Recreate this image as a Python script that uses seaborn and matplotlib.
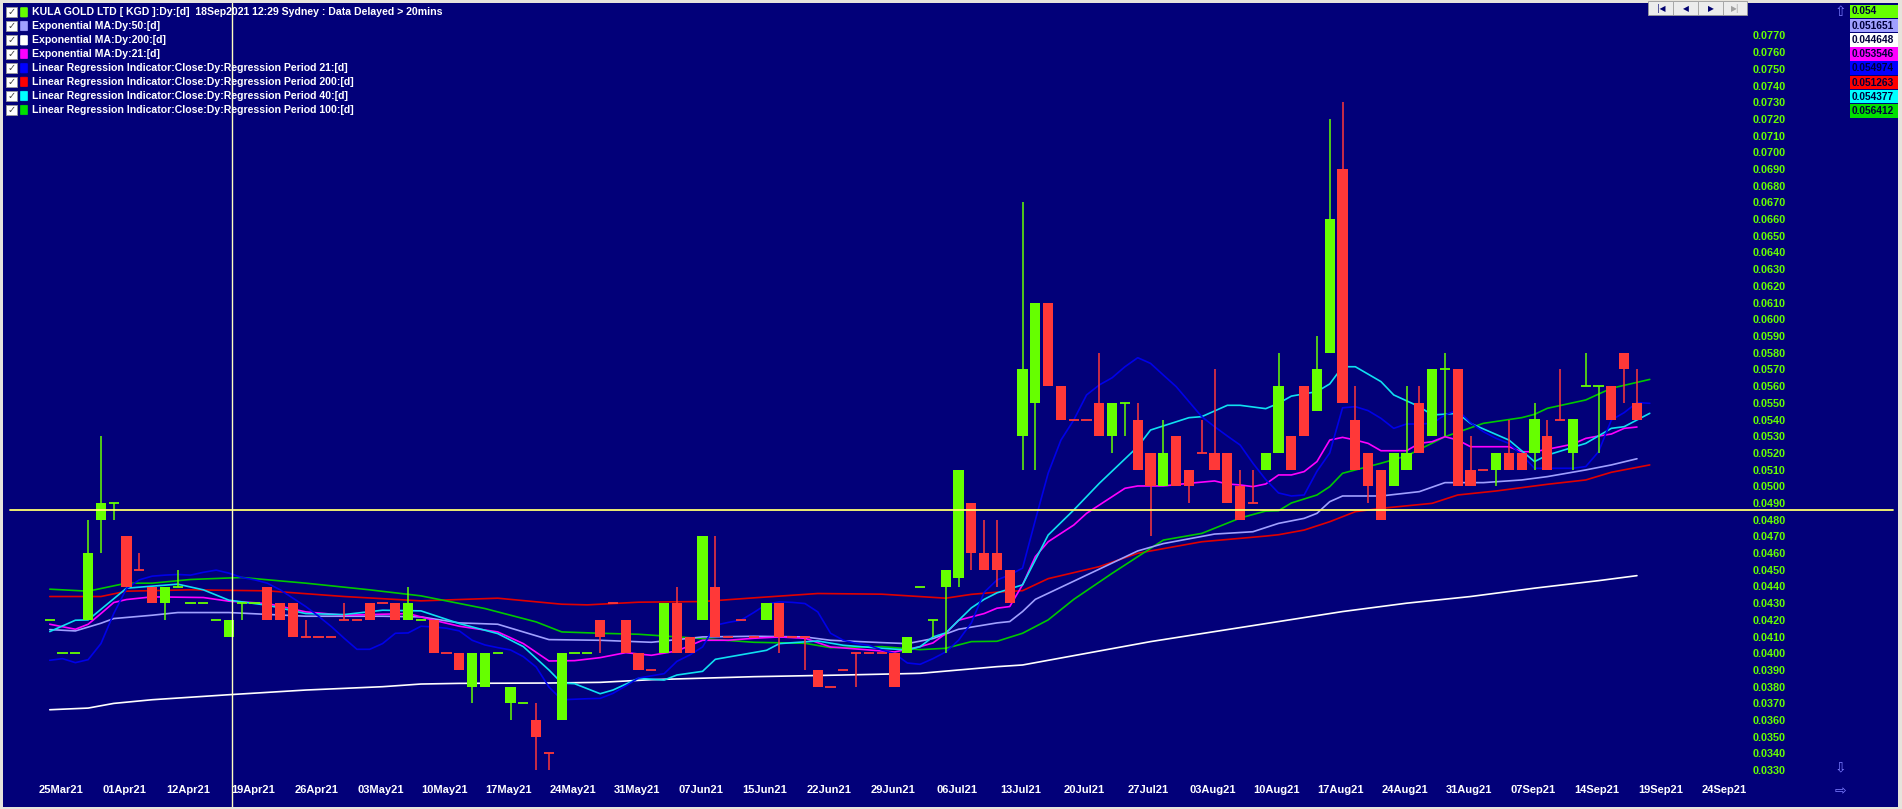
import numpy as np
import pandas as pd
import matplotlib
matplotlib.use("Agg")
import matplotlib.pyplot as plt
from matplotlib.patches import Rectangle, FancyBboxPatch
import seaborn as sns

W, H = 1902, 809

# ---------------- price data (daily bars, oldest first) ----------------
opens = [
    0.042, 0.040, 0.040, 0.042, 0.048, 0.049, 0.047, 0.045, 0.044, 0.043,
    0.044, 0.043, 0.043, 0.042, 0.041, 0.043, 0.043, 0.044, 0.043, 0.043,
    0.041, 0.041, 0.041, 0.042, 0.042, 0.043, 0.043, 0.043, 0.042, 0.042,
    0.042, 0.040, 0.040, 0.038, 0.038, 0.040, 0.037, 0.037, 0.036, 0.034,
    0.036, 0.040, 0.040, 0.042, 0.043, 0.042, 0.040, 0.039, 0.040, 0.043,
    0.041, 0.042, 0.044, 0.041, 0.042, 0.041, 0.042, 0.043, 0.041, 0.041,
    0.039, 0.038, 0.039, 0.040, 0.040, 0.040, 0.040, 0.040, 0.044, 0.042,
    0.044, 0.0445, 0.049, 0.046, 0.046, 0.045, 0.053, 0.055, 0.061, 0.056,
    0.054, 0.054, 0.055, 0.053, 0.055, 0.054, 0.052, 0.050, 0.053, 0.051,
    0.052, 0.052, 0.052, 0.050, 0.049, 0.051, 0.052, 0.053, 0.056, 0.0545,
    0.058, 0.069, 0.054, 0.052, 0.051, 0.050, 0.051, 0.055, 0.053, 0.057,
    0.057, 0.051, 0.051, 0.051, 0.052, 0.052, 0.052, 0.053, 0.054, 0.052,
    0.056, 0.056, 0.056, 0.058, 0.055]
highs = [
    0.042, 0.040, 0.040, 0.048, 0.053, 0.049, 0.047, 0.046, 0.044, 0.044,
    0.045, 0.043, 0.043, 0.042, 0.042, 0.043, 0.043, 0.044, 0.043, 0.043,
    0.042, 0.041, 0.041, 0.043, 0.042, 0.043, 0.043, 0.043, 0.044, 0.042,
    0.042, 0.040, 0.040, 0.040, 0.040, 0.040, 0.038, 0.037, 0.037, 0.034,
    0.040, 0.040, 0.040, 0.042, 0.043, 0.042, 0.040, 0.039, 0.043, 0.044,
    0.041, 0.047, 0.047, 0.041, 0.042, 0.041, 0.043, 0.043, 0.041, 0.041,
    0.039, 0.038, 0.039, 0.040, 0.040, 0.040, 0.040, 0.041, 0.044, 0.042,
    0.045, 0.051, 0.049, 0.048, 0.048, 0.045, 0.067, 0.061, 0.061, 0.056,
    0.054, 0.054, 0.058, 0.055, 0.055, 0.055, 0.052, 0.054, 0.053, 0.051,
    0.054, 0.057, 0.052, 0.051, 0.051, 0.052, 0.058, 0.053, 0.056, 0.059,
    0.072, 0.073, 0.056, 0.052, 0.051, 0.052, 0.056, 0.056, 0.057, 0.058,
    0.057, 0.053, 0.051, 0.052, 0.054, 0.052, 0.055, 0.054, 0.057, 0.054,
    0.058, 0.056, 0.056, 0.058, 0.057]
lows = [
    0.042, 0.040, 0.040, 0.042, 0.046, 0.048, 0.044, 0.045, 0.043, 0.042,
    0.044, 0.043, 0.043, 0.042, 0.041, 0.042, 0.043, 0.042, 0.042, 0.041,
    0.041, 0.041, 0.041, 0.042, 0.042, 0.042, 0.043, 0.042, 0.042, 0.042,
    0.040, 0.040, 0.039, 0.037, 0.038, 0.040, 0.036, 0.037, 0.033, 0.033,
    0.036, 0.040, 0.040, 0.040, 0.043, 0.040, 0.039, 0.039, 0.040, 0.040,
    0.040, 0.042, 0.041, 0.041, 0.042, 0.041, 0.042, 0.040, 0.041, 0.039,
    0.038, 0.038, 0.039, 0.038, 0.040, 0.040, 0.038, 0.040, 0.044, 0.041,
    0.040, 0.044, 0.045, 0.045, 0.044, 0.043, 0.051, 0.051, 0.056, 0.054,
    0.054, 0.054, 0.053, 0.052, 0.053, 0.051, 0.047, 0.050, 0.050, 0.049,
    0.052, 0.051, 0.049, 0.048, 0.049, 0.051, 0.052, 0.051, 0.053, 0.0545,
    0.058, 0.055, 0.051, 0.049, 0.048, 0.050, 0.051, 0.052, 0.053, 0.053,
    0.050, 0.050, 0.051, 0.050, 0.051, 0.051, 0.051, 0.051, 0.054, 0.051,
    0.056, 0.052, 0.054, 0.055, 0.054]
closes = [
    0.042, 0.040, 0.040, 0.046, 0.049, 0.049, 0.044, 0.045, 0.043, 0.044,
    0.044, 0.043, 0.043, 0.042, 0.042, 0.043, 0.043, 0.042, 0.042, 0.041,
    0.041, 0.041, 0.041, 0.042, 0.042, 0.042, 0.043, 0.042, 0.043, 0.042,
    0.040, 0.040, 0.039, 0.040, 0.040, 0.040, 0.038, 0.037, 0.035, 0.034,
    0.040, 0.040, 0.040, 0.041, 0.043, 0.040, 0.039, 0.039, 0.043, 0.040,
    0.040, 0.047, 0.041, 0.041, 0.042, 0.041, 0.043, 0.041, 0.041, 0.041,
    0.038, 0.038, 0.039, 0.040, 0.040, 0.040, 0.038, 0.041, 0.044, 0.042,
    0.045, 0.051, 0.046, 0.045, 0.045, 0.043, 0.057, 0.061, 0.056, 0.054,
    0.054, 0.054, 0.053, 0.055, 0.055, 0.051, 0.050, 0.052, 0.050, 0.050,
    0.052, 0.051, 0.049, 0.048, 0.049, 0.052, 0.056, 0.051, 0.053, 0.057,
    0.066, 0.055, 0.051, 0.050, 0.048, 0.052, 0.052, 0.052, 0.057, 0.057,
    0.050, 0.050, 0.051, 0.052, 0.051, 0.051, 0.054, 0.051, 0.054, 0.054,
    0.056, 0.056, 0.054, 0.057, 0.054]
# candle colour: g = up (green), r = down (red)
bar_dir = ("gggggg" "rrr" "gggggggg" "rrrrrrrrrrr" "gg" "rrr" "ggggg" "rr" "ggg"
           "rrrrr" "g" "rr" "g" "rrrr" "g" "rrrrrrrrrr" "ggggg" "rrrr" "gg" "rrrrr"
           "gg" "rr" "g" "rrrrrrr" "gg" "rr" "gg" "rrrr" "gg" "r" "gg" "rrr" "g"
           "rr" "g" "rr" "ggg" "rrr")

# ---------------- indicator lines ----------------
ema50_x = [0, 2, 4, 5, 8, 10, 14, 20, 26, 29, 32, 35, 39, 43, 47, 51, 55, 59, 61, 65, 67,
           69, 71, 74, 75, 76, 77, 81, 85, 87, 91, 94, 96, 98, 99, 100, 101, 104, 107,
           109, 112, 115, 117, 120, 122, 124]
ema50_y = [0.04142, 0.04134, 0.04180, 0.04208, 0.04228, 0.04244, 0.04244, 0.04222, 0.04222,
           0.04218, 0.04182, 0.04174, 0.04082, 0.04078, 0.04066, 0.04098, 0.04102, 0.04098,
           0.04078, 0.04064, 0.04058, 0.04088, 0.04144, 0.04182, 0.04190, 0.04250, 0.04323,
           0.04468, 0.04613, 0.04657, 0.04714, 0.04728, 0.04778, 0.04808, 0.04838, 0.04908,
           0.04942, 0.04942, 0.04968, 0.05022, 0.05022, 0.05038, 0.05058, 0.05098, 0.05128,
           0.05165]

ema200_x = [0, 3, 5, 8, 14, 20, 26, 29, 32, 39, 43, 47, 55, 62, 68, 71, 74, 76, 81, 86, 91,
            96, 101, 106, 111, 116, 121, 124]
ema200_y = [0.03662, 0.03672, 0.03700, 0.03722, 0.03752, 0.03780, 0.03800, 0.03816, 0.03820,
            0.03822, 0.03826, 0.03842, 0.03860, 0.03870, 0.03880, 0.03900, 0.03920, 0.03930,
            0.04000, 0.04070, 0.04130, 0.04190, 0.04250, 0.04300, 0.04340, 0.04390, 0.04435,
            0.04465]

ema21_x = [0, 2, 3, 4, 5, 6, 8, 12, 14, 17, 20, 23, 26, 28, 30, 32, 35, 37, 39, 41, 43, 45,
           47, 49, 51, 53, 55, 57, 59, 61, 63, 66, 68, 69, 70, 71, 72, 73, 74, 75, 76, 77,
           78, 80, 81, 83, 84, 85, 87, 89, 91, 92, 93, 94, 95, 96, 97, 98, 99, 100, 101,
           102, 103, 104, 106, 107, 108, 109, 110, 111, 114, 115, 116, 118, 119, 120, 121,
           122, 123, 124]
ema21_y = [0.04174, 0.04144, 0.04174, 0.04238, 0.04304, 0.04322, 0.04338, 0.04334, 0.04312,
           0.04298, 0.04248, 0.04228, 0.04234, 0.04238, 0.04198, 0.04162, 0.04128, 0.04058,
           0.03954, 0.03956, 0.03974, 0.04004, 0.03988, 0.04014, 0.04078, 0.04078, 0.04090,
           0.04098, 0.04090, 0.04038, 0.04026, 0.04008, 0.04040, 0.04062, 0.04118, 0.04198,
           0.04218, 0.04238, 0.04270, 0.04280, 0.04410, 0.04579, 0.04668, 0.04768, 0.04838,
           0.04938, 0.04988, 0.05002, 0.05002, 0.05018, 0.05032, 0.05014, 0.05008, 0.04998,
           0.05014, 0.05068, 0.05068, 0.05088, 0.05148, 0.05277, 0.05293, 0.05277, 0.05257,
           0.05213, 0.05213, 0.05257, 0.05267, 0.05297, 0.05277, 0.05237, 0.05237, 0.05207,
           0.05207, 0.05237, 0.05253, 0.05287, 0.05301, 0.05313, 0.05347, 0.05355]

lr21_x = list(range(0, 126))
lr21_y = [0.03958, 0.03968, 0.03944, 0.03962, 0.04058, 0.04238, 0.04388, 0.04440, 0.04462,
          0.04468, 0.04472, 0.04468, 0.04485, 0.04498, 0.04480, 0.04454, 0.04440, 0.04420,
          0.04380, 0.04330, 0.04280, 0.04222, 0.04160, 0.04090, 0.04024, 0.04024, 0.04058,
          0.04120, 0.04122, 0.04162, 0.04158, 0.04150, 0.04134, 0.04078, 0.04050, 0.04034,
          0.04020, 0.03980, 0.03918, 0.03798, 0.03722, 0.03725, 0.03728, 0.03730, 0.03760,
          0.03805, 0.03852, 0.03865, 0.03878, 0.03952, 0.03990, 0.04038, 0.04168, 0.04185,
          0.04198, 0.04244, 0.04294, 0.04308, 0.04305, 0.04298, 0.04248, 0.04120, 0.04078,
          0.04060, 0.04048, 0.04020, 0.03998, 0.03942, 0.03934, 0.03968, 0.04008, 0.04078,
          0.04182, 0.04365, 0.04439, 0.04470, 0.04510, 0.04798, 0.05078, 0.05277, 0.05397,
          0.05547, 0.05607, 0.05650, 0.05716, 0.05770, 0.05736, 0.05666, 0.05597, 0.05507,
          0.05417, 0.05357, 0.05301, 0.05247, 0.05138, 0.05040, 0.04960, 0.04942, 0.04948,
          0.05090, 0.05200, 0.05470, 0.05477, 0.05453, 0.05407, 0.05347, 0.05373, 0.05373,
          0.05377, 0.05427, 0.05457, 0.05381, 0.05327, 0.05287, 0.05257, 0.05187, 0.05108,
          0.05108, 0.05108, 0.05108, 0.05118, 0.05207, 0.05397, 0.05441, 0.05501, 0.05497]

lr200_x = [0, 4, 6, 11, 17, 23, 29, 35, 40, 42, 46, 51, 55, 60, 65, 70, 72, 74, 76, 78, 82,
           85, 90, 95, 96, 98, 100, 102, 104, 108, 110, 113, 117, 120, 122, 125]
lr200_y = [0.04340, 0.04340, 0.04372, 0.04380, 0.04374, 0.04340, 0.04314, 0.04330, 0.04294,
           0.04290, 0.04306, 0.04310, 0.04332, 0.04358, 0.04354, 0.04330, 0.04353, 0.04366,
           0.04375, 0.04447, 0.04519, 0.04599, 0.04668, 0.04702, 0.04710, 0.04738, 0.04788,
           0.04848, 0.04868, 0.04898, 0.04948, 0.04972, 0.05012, 0.05038, 0.05084, 0.05128]

lr40_x = [0, 2, 3, 6, 8, 10, 12, 14, 17, 20, 23, 26, 29, 32, 35, 37, 39, 40, 41, 43, 44, 46,
          48, 49, 51, 52, 56, 57, 60, 62, 65, 67, 68, 69, 70, 72, 73, 74, 76, 78, 80, 82,
          85, 86, 89, 90, 92, 93, 95, 96, 97, 99, 100, 101, 102, 104, 105, 107, 108, 110,
          111, 114, 116, 117, 120, 122, 123, 125]
lr40_y = [0.04130, 0.04198, 0.04200, 0.04390, 0.04402, 0.04414, 0.04380, 0.04318, 0.04288,
          0.04238, 0.04232, 0.04258, 0.04254, 0.04178, 0.04118, 0.04040, 0.03900, 0.03822,
          0.03818, 0.03758, 0.03780, 0.03850, 0.03840, 0.03870, 0.03892, 0.03964, 0.04018,
          0.04058, 0.04074, 0.04048, 0.04030, 0.04020, 0.04040, 0.04098, 0.04122, 0.04272,
          0.04323, 0.04362, 0.04410, 0.04708, 0.04858, 0.05018, 0.05237, 0.05337, 0.05411,
          0.05417, 0.05485, 0.05485, 0.05465, 0.05497, 0.05540, 0.05567, 0.05613, 0.05716,
          0.05716, 0.05627, 0.05547, 0.05477, 0.05427, 0.05437, 0.05377, 0.05277, 0.05148,
          0.05187, 0.05257, 0.05347, 0.05357, 0.05437]

lr100_x = [0, 3, 6, 8, 11, 15, 20, 25, 29, 34, 38, 40, 43, 46, 51, 55, 59, 61, 65, 68, 70,
           72, 74, 76, 78, 80, 83, 87, 90, 93, 95, 96, 97, 99, 100, 101, 104, 106, 109, 112,
           115, 116, 117, 120, 122, 125]
lr100_y = [0.04384, 0.04372, 0.04420, 0.04420, 0.04442, 0.04454, 0.04420, 0.04380, 0.04344,
           0.04268, 0.04188, 0.04128, 0.04120, 0.04114, 0.04088, 0.04066, 0.04060, 0.04034,
           0.04040, 0.04022, 0.04030, 0.04070, 0.04072, 0.04120, 0.04200, 0.04323, 0.04479,
           0.04678, 0.04718, 0.04810, 0.04852, 0.04854, 0.04900, 0.04948, 0.04998, 0.05078,
           0.05138, 0.05182, 0.05297, 0.05377, 0.05411, 0.05431, 0.05467, 0.05517, 0.05587,
           0.05640]

date_labels = ["25Mar21", "01Apr21", "12Apr21", "19Apr21", "26Apr21", "03May21", "10May21",
               "17May21", "24May21", "31May21", "07Jun21", "15Jun21", "22Jun21", "29Jun21",
               "06Jul21", "13Jul21", "20Jul21", "27Jul21", "03Aug21", "10Aug21", "17Aug21",
               "24Aug21", "31Aug21", "07Sep21", "14Sep21", "19Sep21", "24Sep21"]
price_ticks = np.round(np.arange(0.033, 0.0775, 0.001), 3)
price_tick_labels = [f"{v:.4f}" for v in price_ticks]

legend_rows = [
    ("KULA GOLD LTD [ KGD ]:Dy:[d]  18Sep2021 12:29 Sydney : Data Delayed > 20mins", "#66FF00"),
    ("Exponential MA:Dy:50:[d]", "#A0A0FF"),
    ("Exponential MA:Dy:200:[d]", "#FFFFFF"),
    ("Exponential MA:Dy:21:[d]", "#FF00FF"),
    ("Linear Regression Indicator:Close:Dy:Regression Period 21:[d]", "#0000FF"),
    ("Linear Regression Indicator:Close:Dy:Regression Period 200:[d]", "#FF0000"),
    ("Linear Regression Indicator:Close:Dy:Regression Period 40:[d]", "#00FFFF"),
    ("Linear Regression Indicator:Close:Dy:Regression Period 100:[d]", "#00E000"),
]
last_values = ["0.054", "0.051651", "0.044648", "0.053546", "0.054974", "0.051263",
               "0.054377", "0.056412"]
cursor_bar = 14.25
cursor_price = 0.04856

# ---------------- styling ----------------
NAVY = "#020079"
GREEN = "#66FF00"
RED = "#FF3838"
sns.set_theme(style="dark")
plt.rcParams["font.family"] = ["Liberation Sans", "DejaVu Sans"]
plt.rcParams["axes.linewidth"] = 0

fig = plt.figure(figsize=(W / 100, H / 100), dpi=100, facecolor="#E6E3DC")


def fx(x):
    return x / W


def fy(y):
    return 1 - y / H


# plot area in pixels
L, R, T, B = 3, 1898, 3, 807
ax = fig.add_axes([fx(L), fy(B), (R - L) / W, (B - T) / H])
ax.set_facecolor(NAVY)
for s in ax.spines.values():
    s.set_visible(False)
ax.grid(False)

# mapping bar index -> px: 49.75 + 12.8*i ; price -> px: 503 - (p-0.049)*16700
ax.set_xlim((L - 49.75) / 12.8, (R - 49.75) / 12.8)
ax.set_ylim(0.049 - (B - 503) / 16700, 0.049 + (503 - T) / 16700)

# indicator lines
lines = [
    (ema200_x, ema200_y, "#FFFFFF"),
    (lr200_x, lr200_y, "#E00000"),
    (lr100_x, lr100_y, "#00C800"),
    (ema50_x, ema50_y, "#A0A0FF"),
    (ema21_x, ema21_y, "#FF00FF"),
    (lr40_x, lr40_y, "#10E0F0"),
    (lr21_x, lr21_y, "#0000E8"),
]
for xs, ys, c in lines:
    sns.lineplot(x=xs, y=ys, ax=ax, color=c, lw=1.2, estimator=None, sort=False, zorder=3)

# candles
df = pd.DataFrame({"open": opens, "high": highs, "low": lows, "close": closes,
                   "dir": list(bar_dir)})
df["i"] = np.arange(len(df))
df["col"] = np.where(df["dir"] == "g", GREEN, RED)
ax.vlines(df["i"], df["low"], df["high"], colors=df["col"], lw=1.1, zorder=4)
body = df[df["open"] != df["close"]]
ax.bar(body["i"], (body["close"] - body["open"]).abs(),
       bottom=np.minimum(body["open"], body["close"]), width=0.8,
       color=body["col"], linewidth=0, zorder=5)
flat = df[df["open"] == df["close"]]
ax.hlines(flat["close"], flat["i"] - 0.4, flat["i"] + 0.4, colors=flat["col"], lw=1.3, zorder=5)

# cursor cross-hair
ax.axhline(cursor_price, xmin=(10 - L) / (R - L), xmax=(1893 - L) / (R - L),
           color="#FFFF70", lw=1.3, zorder=7)
ax.axvline(cursor_bar, color="#FFFFC0", lw=1.0, zorder=7)

# ticks
ax.yaxis.tick_right()
ax.set_yticks(price_ticks)
ax.set_yticklabels(price_tick_labels, fontweight="bold")
ax.tick_params(axis="y", length=0, pad=-104.4, labelcolor=GREEN, labelsize=7.8)
ax.set_xticks(np.arange(len(date_labels)) * 5 + 0.85)
ax.set_xticklabels(date_labels, fontweight="bold")
ax.tick_params(axis="x", length=0, pad=-15.5, labelcolor="white", labelsize=8)
ax.set_xlabel("")
ax.set_ylabel("")

# legend (top-left)
row_y = [12.3, 26.0, 40.3, 53.9, 68.2, 81.9, 96.0, 110.0]
for (label, col), yy in zip(legend_rows, row_y):
    fig.patches.append(Rectangle((fx(6), fy(yy + 5)), 11 / W, 10 / H, transform=fig.transFigure,
                                 facecolor="white", edgecolor="#9A9A9A", lw=0.6, zorder=10))
    fig.text(fx(11.5), fy(yy), "\u2713", color="#404040", fontsize=7, ha="center", va="center",
             family=["DejaVu Sans"], fontweight="bold", zorder=11)
    fig.patches.append(FancyBboxPatch((fx(21.5), fy(yy + 4.3)), 5 / W, 8.6 / H,
                                      boxstyle="round,pad=0.0005", transform=fig.transFigure,
                                      facecolor=col, edgecolor=col, lw=0.5, zorder=10))
    fig.text(fx(31.5), fy(yy), label, color="white", fontsize=7.55, fontweight="bold",
             ha="left", va="center", zorder=11)

# last-value boxes (top-right)
box_cols = ["#66FF00", "#A0A0FF", "#FFFFFF", "#FF00FF", "#0000FF", "#FF0000", "#00FFFF", "#00E000"]
for k, (val, c) in enumerate(zip(last_values, box_cols)):
    top = 4.5 + 14.2 * k
    fig.patches.append(Rectangle((fx(1850), fy(top + 13.6)), 48 / W, 13.6 / H,
                                 transform=fig.transFigure, facecolor=c, edgecolor="none",
                                 zorder=10))
    fig.text(fx(1852), fy(top + 7), val, color="#00003A", fontsize=7.3, fontweight="bold",
             ha="left", va="center", zorder=11)

# navigation buttons
fig.patches.append(Rectangle((fx(1648), fy(15)), 99 / W, 14 / H, transform=fig.transFigure,
                             facecolor="#ECECEC", edgecolor="#9A9A9A", lw=0.6, zorder=10))
for sx in (1673, 1698, 1723):
    fig.patches.append(Rectangle((fx(sx), fy(15)), 0.8 / W, 14 / H, transform=fig.transFigure,
                                 facecolor="#A8A8A8", edgecolor="none", zorder=11))
for gx, g, gc in [(1661, "|\u25C0", "#000070"), (1686, "\u25C0", "#000070"),
                  (1711, "\u25B6", "#000070"), (1735, "\u25B6|", "#A0A0A0")]:
    fig.text(fx(gx), fy(8.3), g, color=gc, fontsize=5.5, ha="center", va="center",
             family=["DejaVu Sans"], zorder=12)

# scroll arrows
for ay, glyph in [(12, "\u21E7"), (767, "\u21E9"), (791, "\u21E8")]:
    fig.text(fx(1840), fy(ay), glyph, color="#7C7CFF", fontsize=10, ha="center", va="center",
             family=["DejaVu Sans"], zorder=12)

fig.savefig("out.png", dpi=100, facecolor=fig.get_facecolor())
